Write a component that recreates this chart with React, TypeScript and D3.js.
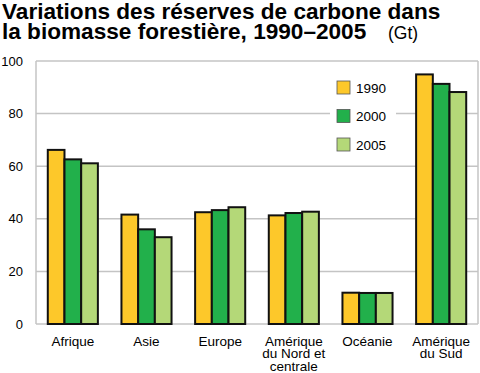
import React, { useEffect, useRef } from 'react';
import * as d3 from 'd3';

const categories = ['Afrique', 'Asie', 'Europe', 'Amérique\ndu Nord et\ncentrale', 'Océanie', 'Amérique\ndu Sud'];
const years = ['1990', '2000', '2005'];
const values1990 = [66.2, 41.6, 42.5, 41.3, 11.9, 94.9];
const values2000 = [62.6, 36.0, 43.3, 42.2, 11.8, 91.3];
const values2005 = [61.1, 33.0, 44.4, 42.7, 11.8, 88.2];
const yTicks = [0, 20, 40, 60, 80, 100];
const colors = ['#fdc82a', '#22b04b', '#b4d878'];

export default function App() {
  const ref = useRef<SVGSVGElement>(null);

  useEffect(() => {
    const svg = d3.select(ref.current);
    svg.selectAll('*').remove();

    const margin = { top: 61, left: 36, right: 2, bottom: 49 };
    const W = 480, H = 373;
    const w = W - margin.left - margin.right;
    const h = H - margin.top - margin.bottom;
    const font = 'Liberation Sans, Arial, Helvetica, sans-serif';

    // title
    const title = svg.append('g').attr('font-family', font).attr('fill', '#000');
    title.append('text').attr('x', 2).attr('y', 18.5).attr('font-size', 22.6).attr('font-weight', 'bold')
      .text('Variations des réserves de carbone dans');
    title.append('text').attr('x', 2).attr('y', 38.5).attr('font-size', 22.6).attr('font-weight', 'bold')
      .text('la biomasse forestière, 1990–2005');
    title.append('text').attr('x', 388).attr('y', 38.5).attr('font-size', 17.5).text('(Gt)');

    const g = svg.append('g').attr('transform', `translate(${margin.left},${margin.top})`);

    const x = d3.scaleBand().domain(categories).range([0, w]).paddingInner(0.32).paddingOuter(0.16);
    const xs = d3.scaleBand().domain(years).range([0, x.bandwidth()]);
    const y = d3.scaleLinear().domain([0, 100]).range([h, 0]);

    // gridlines
    g.selectAll('.grid').data(yTicks).join('line').attr('class', 'grid')
      .attr('x1', 0).attr('x2', w)
      .attr('y1', d => y(d)).attr('y2', d => y(d))
      .attr('stroke', '#c4c4c4').attr('stroke-width', 1.5);
    g.append('line').attr('x1', 0).attr('x2', 0).attr('y1', 0).attr('y2', h)
      .attr('stroke', '#c4c4c4').attr('stroke-width', 1.5);
    g.append('line').attr('x1', w).attr('x2', w).attr('y1', 0).attr('y2', h)
      .attr('stroke', '#c4c4c4').attr('stroke-width', 1.5);

    // y labels
    g.selectAll('.ylab').data(yTicks).join('text').attr('class', 'ylab')
      .attr('x', -13).attr('y', d => y(d)).attr('dy', '0.36em')
      .attr('text-anchor', 'end').attr('font-family', font).attr('font-size', 13)
      .text(d => d);

    // legend
    const leg = g.append('g').attr('transform', 'translate(294,0)');
    leg.append('rect').attr('x', 0).attr('y', 46).attr('width', 66).attr('height', 14).attr('fill', '#fff');
    years.forEach((yr, i) => {
      const yy = 20 + i * 28.5;
      leg.append('rect').attr('x', 7).attr('y', yy).attr('width', 13).attr('height', 13)
        .attr('fill', colors[i]).attr('stroke', '#555').attr('stroke-width', 0.8);
      leg.append('text').attr('x', 26).attr('y', yy + 11.5).attr('font-family', font).attr('font-size', 13.5)
        .text(yr);
    });

    // bars
    const series = [values1990, values2000, values2005];
    categories.forEach((c, ci) => {
      series.forEach((vals, si) => {
        g.append('rect')
          .attr('x', (x(c) as number) + (xs(years[si]) as number))
          .attr('y', y(vals[ci]))
          .attr('width', xs.bandwidth())
          .attr('height', h - y(vals[ci]))
          .attr('fill', colors[si]).attr('stroke', '#111').attr('stroke-width', 2);
      });
    });

    // x labels
    categories.forEach(c => {
      const t = g.append('text').attr('font-family', font).attr('font-size', 13.5)
        .attr('text-anchor', 'middle');
      c.split('\n').forEach((line, li) => {
        t.append('tspan').attr('x', (x(c) as number) + x.bandwidth() / 2)
          .attr('y', h + 21.5 + li * 12.5).text(line);
      });
    });
  }, []);

  return (
    <svg ref={ref} width={480} height={373} style={{ position: 'absolute', left: 0, top: 0, background: '#fff' }} />
  );
}
